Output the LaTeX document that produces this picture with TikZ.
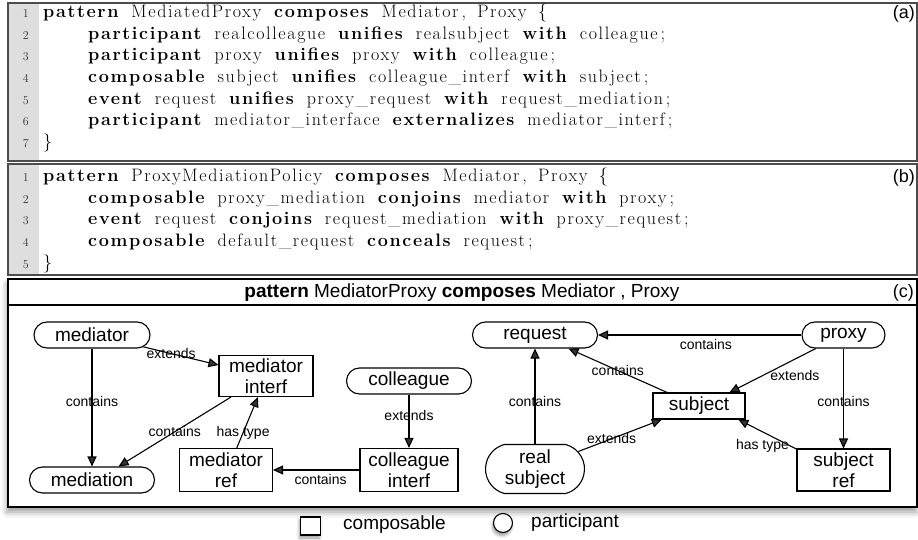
\documentclass[tikz,border=0pt]{standalone}
\usepackage{fontspec}
\newfontfamily\helv{Liberation Sans}
\newfontfamily\codefont[LetterSpace=9,WordSpace=1.6]{Latin Modern Roman}
\usetikzlibrary{arrows.meta,shapes.misc,shadows.blur}
\newcommand\kw[1]{\textbf{#1}}

\tikzset{
  codeframe/.style={draw=black!70, line width=1.4pt},
  gutter/.style={fill=black!13},
  lnum/.style={anchor=base east, inner sep=0pt, text=black!80, font=\fontsize{12}{13}\selectfont},
  codeln/.style={anchor=base west, inner sep=0pt, font=\codefont\fontsize{18}{21}\selectfont},
  tag/.style={anchor=east, inner sep=0pt, font=\helv\fontsize{18}{20}\selectfont},
  part/.style={rounded rectangle, draw, fill=white, line width=1.1pt, minimum height=26pt, inner sep=1pt, align=center, font=\helv\fontsize{19}{21}\selectfont},
  comp/.style={rectangle, draw, fill=white, line width=1.1pt, inner sep=1pt, align=center, font=\helv\fontsize{19}{21}\selectfont},
  rel/.style={line width=1.1pt, -{Triangle[length=10pt,width=9pt]}},
  lbl/.style={inner sep=0pt, font=\helv\fontsize{14}{15}\selectfont},
}

\begin{document}
\begin{tikzpicture}[x=1pt, y=-1pt]
  %%%%% START %%%%%
  \useasboundingbox (0,0) rectangle (918,540);

  % listing (a)
  \fill[gutter] (8,3) rectangle (39,161);
  \draw[codeframe] (8,3) rectangle (917,161);
  \foreach \x/\txt [count=\k] in {
      43/{\kw{pattern} MediatedProxy \kw{composes} Mediator\,, Proxy \{},
      88/{\kw{participant} realcolleague \kw{unifies} realsubject \kw{with} colleague\,;},
      88/{\kw{participant} proxy \kw{unifies} proxy \kw{with} colleague\,;},
      88/{\kw{composable} subject \kw{unifies} colleague\_interf \kw{with} subject\,;},
      88/{\kw{event} request \kw{unifies} proxy\_request \kw{with} request\_mediation\,;},
      88/{\kw{participant} mediator\_interface \kw{externalizes} mediator\_interf\,;},
      43/{\}}}{
    \node[lnum] (na\k) at (29, {17.5+21.7*(\k-1)}) {\k};
    \node[codeln] (la\k) at (\x, {17.5+21.7*(\k-1)}) {\txt};
  }
  \node[tag] (taga) at (915,14) {(a)};

  % listing (b)
  \fill[gutter] (8,164) rectangle (39,275);
  \draw[codeframe] (8,164) rectangle (917,275);
  \foreach \x/\txt [count=\k] in {
      43/{\kw{pattern} ProxyMediationPolicy \kw{composes} Mediator\,, Proxy \{},
      88/{\kw{composable} proxy\_mediation \kw{conjoins} mediator \kw{with} proxy\,;},
      88/{\kw{event} request \kw{conjoins} request\_mediation \kw{with} proxy\_request\,;},
      88/{\kw{composable} default\_request \kw{conceals} request\,;},
      43/{\}}}{
    \node[lnum] (nb\k) at (29, {181.5+21.7*(\k-1)}) {\k};
    \node[codeln] (lb\k) at (\x, {181.5+21.7*(\k-1)}) {\txt};
  }
  \node[tag] (tagb) at (915,178) {(b)};

  % composed pattern (c)
  \draw[line width=1.6pt, fill=white, blur shadow={shadow xshift=-1pt, shadow yshift=-5pt, shadow blur radius=6pt}] (8,279) rectangle (917,507);
  \draw[line width=1.8pt] (8,305) -- (917,305);
  \node[inner sep=0pt, font=\helv\fontsize{19}{21}\selectfont] (title) at (462,293)
    {\textbf{pattern} MediatorProxy \textbf{composes} Mediator , Proxy};
  \node[tag] (tagc) at (914,293) {(c)};

  \node[part, minimum width=118pt] (mediator) at (92,335) {mediator};
  \node[part, minimum width=127pt] (request) at (535,335) {request};
  \node[part, minimum width=85pt] (proxy) at (843.5,335) {proxy};
  \node[comp, minimum width=94pt, minimum height=41pt] (mint) at (266,376) {mediator\\interf};
  \node[part, minimum width=127pt] (colleague) at (409,381) {colleague};
  \node[comp, minimum width=92pt, minimum height=26pt] (subject) at (699,406) {subject};
  \node[part, minimum width=127pt] (mediation) at (92,480) {mediation};
  \node[comp, minimum width=93pt, minimum height=43pt] (mref) at (226,470) {mediator\\ref};
  \node[comp, minimum width=98pt, minimum height=43pt] (cint) at (409,470) {colleague\\interf};
  \node[part, minimum width=101pt, minimum height=49pt, rounded rectangle arc length=150] (rsubj) at (535,469) {real\\subject};
  \node[comp, minimum width=93pt, minimum height=42pt] (sref) at (843.5,470) {subject\\ref};

  \draw[rel] (mediator.-13) -- (mint.167) node[lbl, pos=0.37] (e1) {extends};
  \draw[rel] (mediator.south) -- (mediation.north) node[lbl, pos=0.45] (e2) {contains};
  \draw[rel] (mint.211) -- (mediation.27) node[lbl, pos=0.5] (e3) {contains};
  \draw[rel] (mref.64) -- (mint.249) node[lbl, pos=0.3] (e4) {has type};
  \draw[rel] (colleague.south) -- (cint.north) node[lbl, pos=0.4] (e5) {extends};
  \draw[rel] (cint.west) -- (mref.east) node[lbl, pos=0.45, below=4pt] (e6) {contains};
  \draw[rel] (rsubj.north) -- (request.south) node[lbl, pos=0.44] (e7) {contains};
  \draw[rel] (subject.157) -- (request.-22) node[lbl, pos=0.5] (e8) {contains};
  \draw[rel] (rsubj.22) -- (subject.200) node[lbl, pos=0.4] (e9) {extends};
  \draw[rel] (proxy.west) -- (request.east) node[lbl, pos=0.47, below=4pt] (e10) {contains};
  \draw[rel] (proxy.206) -- (subject.24) node[lbl, pos=0.3, below=8pt, xshift=5pt] (e11) {extends};
  \draw[rel] (proxy.south) -- (sref.north) node[lbl, pos=0.53] (e12) {contains};
  \draw[rel] (sref.156) -- (subject.-19) node[lbl, pos=0.12, left=0pt] (e13) {has type};

  % legend
  \node[draw, fill=white, line width=1.1pt, minimum width=20pt, minimum height=18pt, inner sep=0pt,
        blur shadow={shadow xshift=-1pt, shadow yshift=-3pt, shadow blur radius=3pt}] (legcomp) at (310.5,526) {};
  \node[anchor=west, inner sep=0pt, font=\helv\fontsize{19}{21}\selectfont] (legcomptxt) at (343,525) {composable};
  \node[circle, draw, fill=white, line width=1.1pt, minimum size=19pt, inner sep=0pt,
        blur shadow={shadow xshift=-1pt, shadow yshift=-3pt, shadow blur radius=3pt}] (legpart) at (503,523) {};
  \node[anchor=west, inner sep=0pt, font=\helv\fontsize{19}{21}\selectfont] (legparttxt) at (531,523) {participant};
  %%%%% END %%%%%
\end{tikzpicture}
\end{document}
